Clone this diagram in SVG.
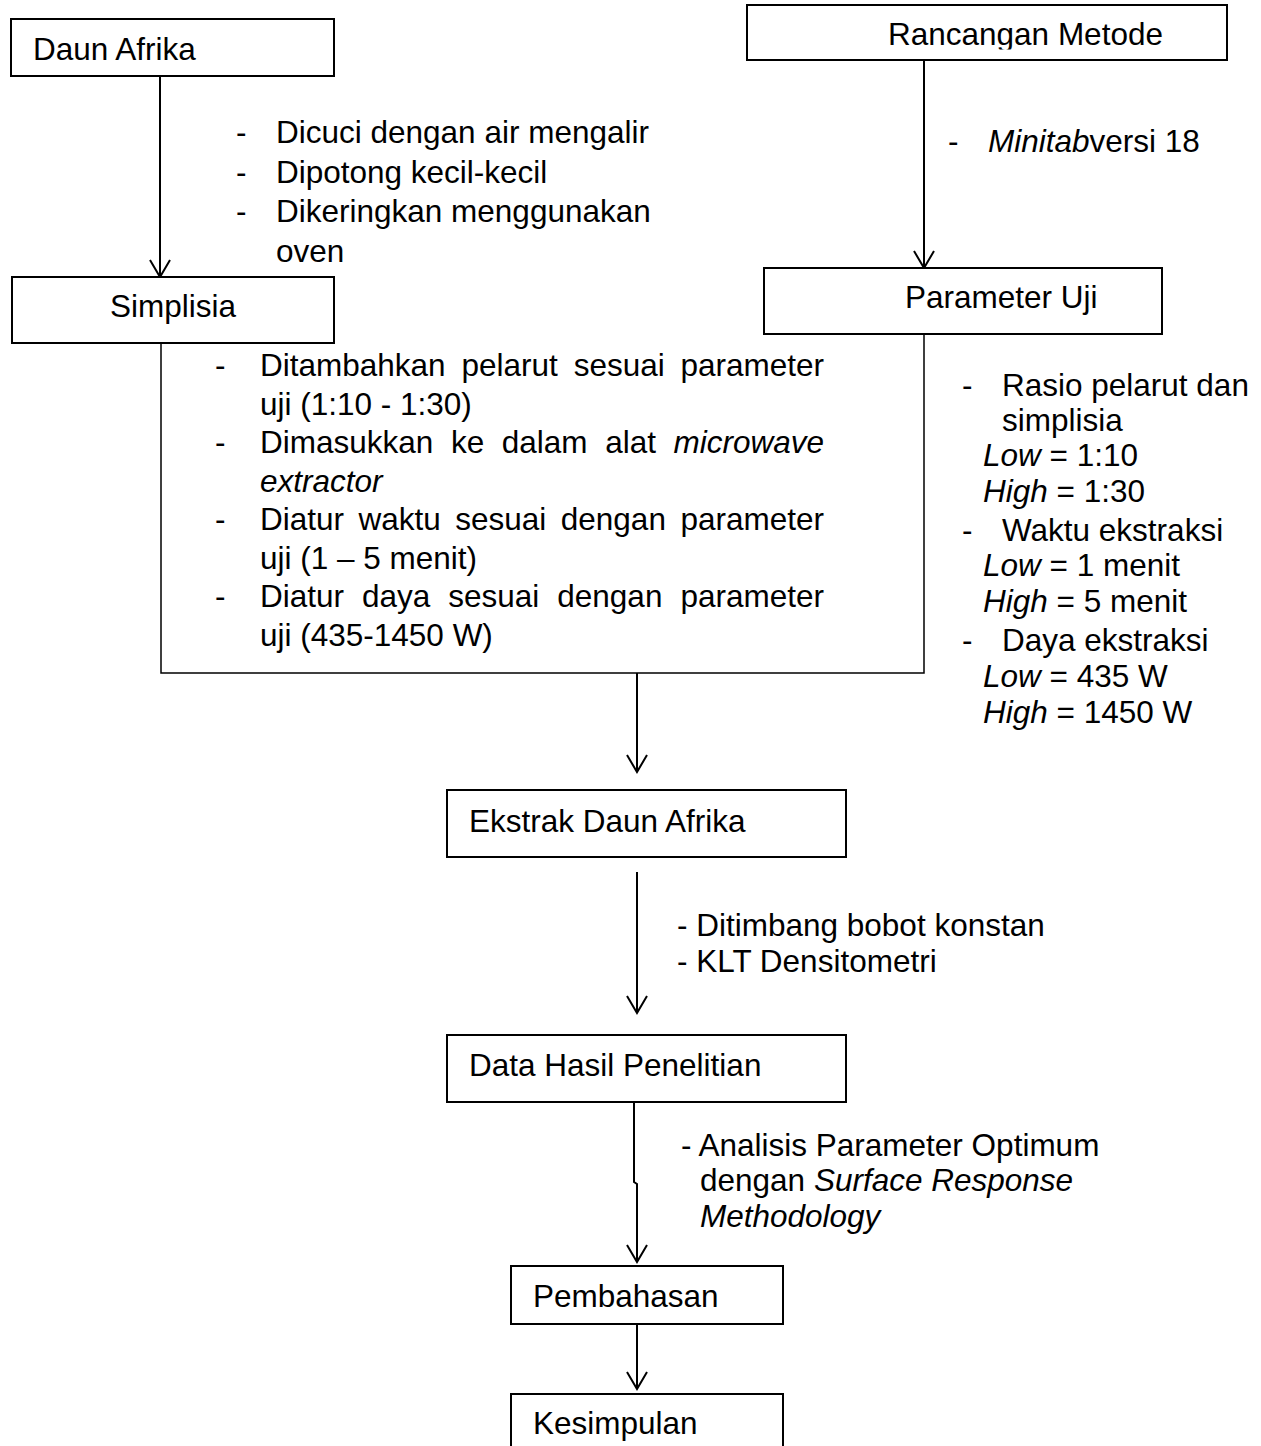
<svg xmlns="http://www.w3.org/2000/svg" width="1261" height="1446" viewBox="0 0 1261 1446">
<style>
.box{fill:#fff;stroke:#000;stroke-width:2}
.t{font-family:"Liberation Sans",Arial,sans-serif;font-size:31.5px;fill:#000}
.i{font-style:italic}
.e{text-anchor:end}
.m{text-anchor:middle}
.c{fill:none;stroke:#000;stroke-width:2}
.br{fill:none;stroke:#000;stroke-width:1.5}
</style>
<defs>
<marker id="ah" markerUnits="userSpaceOnUse" markerWidth="22" markerHeight="24" viewBox="-2 -12 22 24" refX="17" refY="0" orient="auto">
<path d="M0,-10 L17,0 L0,10" fill="none" stroke="#000" stroke-width="2"/>
</marker>
<clipPath id="clipRM"><rect x="747" y="5" width="480" height="44.5"/></clipPath>
</defs>
<rect width="1261" height="1446" fill="#fff"/>

<g id="connectors">
<path class="c" d="M160,76 V277" marker-end="url(#ah)"/>
<path class="c" d="M924,60 V268" marker-end="url(#ah)"/>
<path class="c" d="M637,673 V772" marker-end="url(#ah)"/>
<path class="c" d="M637,872 V1013" marker-end="url(#ah)"/>
<path class="c" d="M634,1102 V1182 L637,1184 V1262" marker-end="url(#ah)"/>
<path class="c" d="M637,1324 V1389" marker-end="url(#ah)"/>
</g>

<g id="node-daun-afrika">
<rect class="box" x="11" y="19" width="323" height="57"/>
<text class="t" x="33" y="60">Daun Afrika</text>
</g>

<g id="label-pencucian">
<text class="t" x="236" y="143">-</text><text class="t" x="276" y="143">Dicuci dengan air mengalir</text>
<text class="t" x="236" y="183">-</text><text class="t" x="276" y="183">Dipotong kecil-kecil</text>
<text class="t" x="236" y="222">-</text><text class="t" x="276" y="222">Dikeringkan menggunakan</text>
<text class="t" x="276" y="262">oven</text>
</g>

<g id="node-simplisia">
<rect class="box" x="12" y="277" width="322" height="66"/>
<text class="t m" x="173" y="317">Simplisia</text>
</g>

<g id="node-rancangan-metode">
<rect class="box" x="747" y="5" width="480" height="55"/>
<text class="t" x="888" y="45" clip-path="url(#clipRM)">Rancangan Metode</text>
</g>

<g id="label-minitab">
<text class="t" x="948" y="152">-</text>
<text class="t" x="988" y="152"><tspan class="i">Minitab</tspan>versi 18</text>
</g>

<g id="node-parameter-uji">
<rect class="box" x="764" y="268" width="398" height="66"/>
<text class="t" x="905" y="308">Parameter Uji</text>
</g>

<g id="node-proses-ekstraksi">
<path class="br" d="M161,343 V673 H924 V334"/>
<text class="t" x="215" y="376">-</text>
<text class="t" x="260" y="376">Ditambahkan</text>
<text class="t" x="461.5" y="376">pelarut</text>
<text class="t" x="573.7" y="376">sesuai</text>
<text class="t e" x="824" y="376">parameter</text>
<text class="t" x="260" y="414.5">uji (1:10 - 1:30)</text>
<text class="t" x="215" y="453">-</text>
<text class="t" x="260" y="453">Dimasukkan</text>
<text class="t" x="450.9" y="453">ke</text>
<text class="t" x="501.8" y="453">dalam</text>
<text class="t" x="605.2" y="453">alat</text>
<text class="t e i" x="824" y="453">microwave</text>
<text class="t i" x="260" y="491.5">extractor</text>
<text class="t" x="215" y="530">-</text>
<text class="t" x="260" y="530">Diatur</text>
<text class="t" x="358.5" y="530">waktu</text>
<text class="t" x="455.3" y="530">sesuai</text>
<text class="t" x="560.8" y="530">dengan</text>
<text class="t e" x="824" y="530">parameter</text>
<text class="t" x="260" y="568.5">uji (1 – 5 menit)</text>
<text class="t" x="215" y="607">-</text>
<text class="t" x="260" y="607">Diatur</text>
<text class="t" x="362" y="607">daya</text>
<text class="t" x="448.3" y="607">sesuai</text>
<text class="t" x="557.3" y="607">dengan</text>
<text class="t e" x="824" y="607">parameter</text>
<text class="t" x="260" y="645.5">uji (435-1450 W)</text>
</g>

<g id="label-parameter">
<text class="t" x="962" y="396">-</text><text class="t" x="1002" y="396">Rasio pelarut dan</text>
<text class="t" x="1002" y="431">simplisia</text>
<text class="t" x="983" y="466"><tspan class="i">Low</tspan> = 1:10</text>
<text class="t" x="983" y="502"><tspan class="i">High</tspan> = 1:30</text>
<text class="t" x="962" y="541">-</text><text class="t" x="1002" y="541">Waktu ekstraksi</text>
<text class="t" x="983" y="576"><tspan class="i">Low</tspan> = 1 menit</text>
<text class="t" x="983" y="612"><tspan class="i">High</tspan> = 5 menit</text>
<text class="t" x="962" y="651">-</text><text class="t" x="1002" y="651">Daya ekstraksi</text>
<text class="t" x="983" y="687"><tspan class="i">Low</tspan> = 435 W</text>
<text class="t" x="983" y="723"><tspan class="i">High</tspan> = 1450 W</text>
</g>

<g id="node-ekstrak">
<rect class="box" x="447" y="790" width="399" height="67"/>
<text class="t" x="469" y="832">Ekstrak Daun Afrika</text>
</g>

<g id="label-analisis-klt">
<text class="t" x="677" y="936">- Ditimbang bobot konstan</text>
<text class="t" x="677" y="972">- KLT Densitometri</text>
</g>

<g id="node-data">
<rect class="box" x="447" y="1035" width="399" height="67"/>
<text class="t" x="469" y="1076">Data Hasil Penelitian</text>
</g>

<g id="label-rsm">
<text class="t" x="681" y="1156">- Analisis Parameter Optimum</text>
<text class="t" x="700" y="1191">dengan <tspan class="i">Surface Response</tspan></text>
<text class="t i" x="700" y="1227">Methodology</text>
</g>

<g id="node-pembahasan">
<rect class="box" x="511" y="1266" width="272" height="58"/>
<text class="t" x="533" y="1307">Pembahasan</text>
</g>

<g id="node-kesimpulan">
<rect class="box" x="511" y="1394" width="272" height="70"/>
<text class="t" x="533" y="1434">Kesimpulan</text>
</g>
</svg>
